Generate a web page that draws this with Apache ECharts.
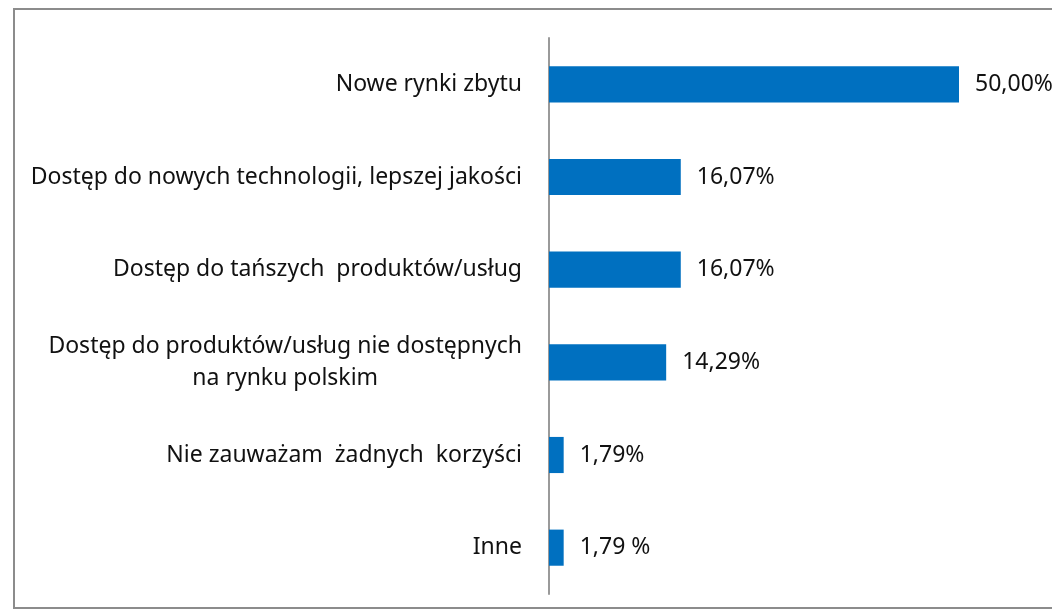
<!DOCTYPE html>
<html>
<head>
<meta charset="utf-8">
<script src="https://cdn.jsdelivr.net/npm/echarts@6/dist/echarts.min.js"></script>
<style>
html, body { margin: 0; padding: 0; background: #fff; }
#chart { width: 1052px; height: 616px; }
</style>
</head>
<body>
<div id="chart"></div>
<script>
var categories = [
	'Nowe rynki zbytu',
	'Dostęp do nowych technologii, lepszej jakości',
	'Dostęp do tańszych  produktów/usług',
	'Dostęp do produktów/usług nie dostępnych\nna rynku polskim',
	'Nie zauważam  żadnych  korzyści',
	'Inne'
];
var values = [50.00, 16.07, 16.07, 14.29, 1.79, 1.79];
var valueLabels = ['50,00%', '16,07%', '16,07%', '14,29%', '1,79%', '1,79 %'];

var myChart = echarts.init(document.getElementById('chart'));
var font = 'Noto Sans';

option = {
	backgroundColor: '#fff',
	animation: false,
	graphic: [{
		type: 'rect',
		shape: { x: 14, y: 9, width: 1100, height: 599 },
		style: { fill: 'none', stroke: '#8c8c8c', lineWidth: 2 },
		silent: true
	}],
	grid: {
		left: 549,
		right: 93,
		top: 38,
		bottom: 22
	},
	xAxis: {
		type: 'value',
		min: 0,
		max: 50,
		show: false
	},
	yAxis: {
		type: 'category',
		inverse: true,
		data: categories,
		axisLine: { show: true, lineStyle: { color: '#9a9a9a', width: 2 } },
		axisTick: { show: false },
		axisLabel: {
			margin: 27,
			fontFamily: font,
			fontSize: 23,
			color: '#111',
			lineHeight: 32,
			formatter: function (v) {
				if (v.indexOf('\n') < 0) return v;
				return v.split('\n').map(function (s) { return '{c|' + s + '}'; }).join('\n');
			},
			rich: {
				c: { align: 'center', fontFamily: font, fontSize: 23, color: '#111', lineHeight: 32 }
			}
		}
	},
	series: [{
		type: 'bar',
		data: values,
		barCategoryGap: '61%',
		itemStyle: { color: '#0070c0' },
		label: {
			show: true,
			position: 'right',
			distance: 16,
			fontFamily: font,
			fontSize: 23,
			color: '#111',
			formatter: function (p) { return valueLabels[p.dataIndex]; }
		}
	}]
};
myChart.setOption(option);
</script>
</body>
</html>
